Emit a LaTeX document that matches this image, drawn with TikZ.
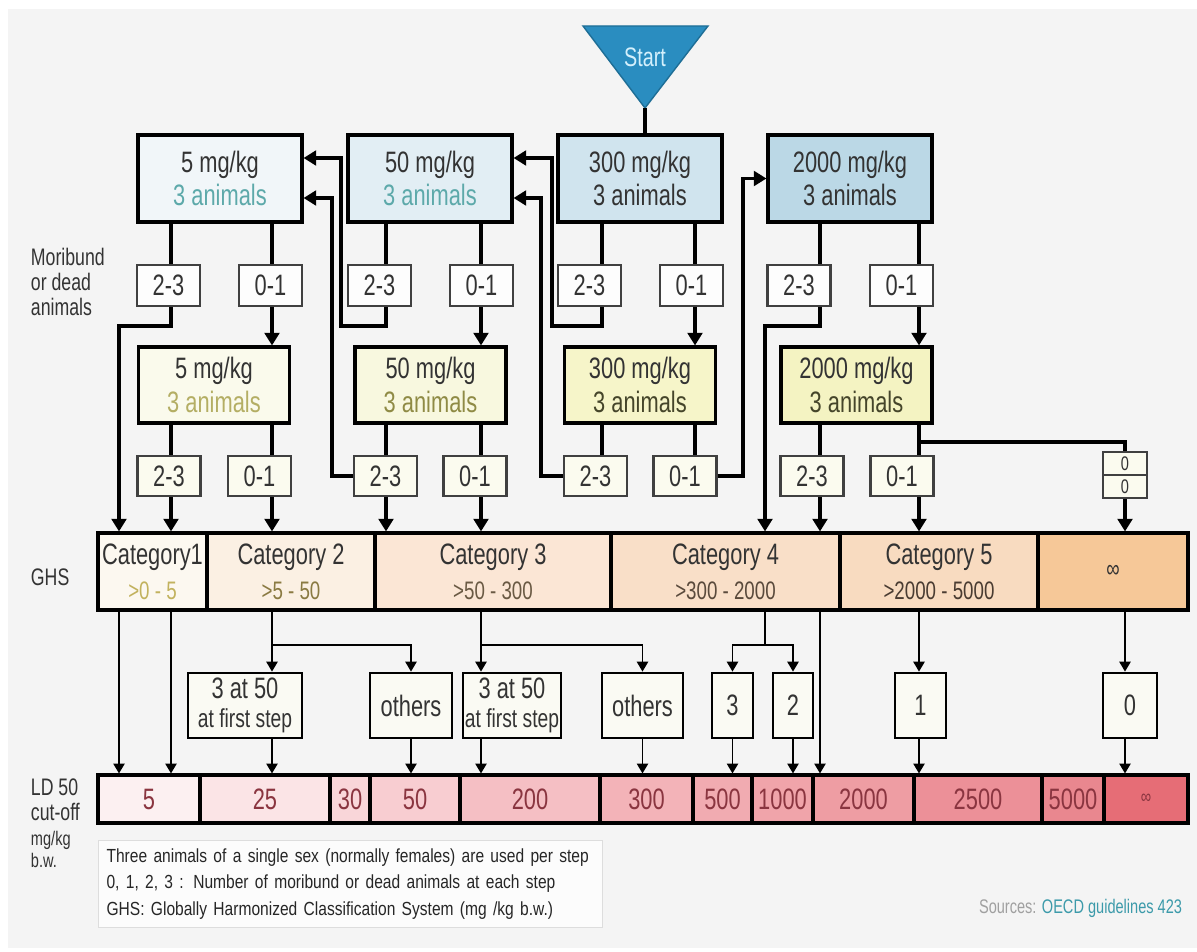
\documentclass[tikz,border=0pt]{standalone}
\usepackage{fontspec}
\setmainfont[FakeStretch=0.74]{Liberation Sans}
\newfontfamily\notesfam[FakeStretch=0.82]{Liberation Sans}
\usetikzlibrary{arrows.meta}
\definecolor{startblue}{HTML}{2A8DC0}
\definecolor{startline}{HTML}{1E6E96}
\definecolor{starttxt}{HTML}{D4F0FC}
\definecolor{panel}{HTML}{F4F4F4}
\definecolor{inktxt}{HTML}{333333}
\definecolor{blueA}{HTML}{F1F6F9}
\definecolor{blueB}{HTML}{E2EEF4}
\definecolor{blueC}{HTML}{D0E4EE}
\definecolor{blueD}{HTML}{BBD8E6}
\definecolor{tealtxt}{HTML}{5DA9AA}
\definecolor{yelA}{HTML}{FAFAEC}
\definecolor{yelB}{HTML}{F8F8DF}
\definecolor{yelC}{HTML}{F6F5C9}
\definecolor{yelD}{HTML}{F4F3C2}
\definecolor{olivA}{HTML}{B4AE64}
\definecolor{olivB}{HTML}{8F8B45}
\definecolor{olivC}{HTML}{45452A}
\definecolor{cntA}{HTML}{FDFDFD}
\definecolor{cntB}{HTML}{FBFBEF}
\definecolor{ghsA}{HTML}{FCF8F0}
\definecolor{ghsB}{HTML}{FBF0E3}
\definecolor{ghsC}{HTML}{FBE6D5}
\definecolor{ghsD}{HTML}{F9DFC8}
\definecolor{ghsE}{HTML}{F8DBC0}
\definecolor{ghsF}{HTML}{F6C898}
\definecolor{subA}{HTML}{C2B25E}
\definecolor{subB}{HTML}{8A7A42}
\definecolor{subC}{HTML}{6A5A44}
\definecolor{subD}{HTML}{5A4A3C}
\definecolor{subE}{HTML}{4A3C32}
\definecolor{ldA}{HTML}{FCF0F1}
\definecolor{ldB}{HTML}{FBE4E6}
\definecolor{ldC}{HTML}{F9D6D9}
\definecolor{ldD}{HTML}{F8CDD1}
\definecolor{ldE}{HTML}{F5BFC4}
\definecolor{ldF}{HTML}{F3B3B8}
\definecolor{ldG}{HTML}{F1ABB1}
\definecolor{ldH}{HTML}{F0A4AA}
\definecolor{ldI}{HTML}{EE9DA3}
\definecolor{ldJ}{HTML}{EC9098}
\definecolor{ldK}{HTML}{E9878F}
\definecolor{ldL}{HTML}{E66D76}
\definecolor{ldtxt}{HTML}{8A3540}
\definecolor{outfill}{HTML}{FAFAF3}
\definecolor{notefill}{HTML}{FCFCFC}
\definecolor{noteline}{HTML}{DDDDDD}
\definecolor{srcgray}{HTML}{A0A0A0}
\definecolor{srcteal}{HTML}{3C9AAA}
\newcommand\fntbox{\fontsize{21}{24}\selectfont}
\newcommand\fntsub{\fontsize{18}{20}\selectfont}
\newcommand\fntside{\fontsize{17}{17.5}\selectfont}
\newcommand\fntunit{\fontsize{14}{15.5}\selectfont}
\newcommand\fntstart{\fontsize{19}{20}\selectfont}
\newcommand\fntnote{\notesfam\fontsize{13.5}{18.5}\selectfont}
\newcommand\fntsrc{\fontsize{14}{16}\selectfont}
\newcommand\fntzero{\fontsize{14}{14}\selectfont}
\begin{document}
\begin{tikzpicture}[x=0.025cm,y=-0.025cm,>={Triangle[length=9pt,width=10.5pt]},
    link/.style={line width=2.2pt},
    lowlink/.style={line width=1.1pt,>={Triangle[length=7pt,width=8pt]}},
    dosea/.style={draw=black,line width=2.2pt,inner sep=0pt,minimum width=4.1cm,minimum height=2.175cm,align=center,font=\fntbox,text=inktxt},
    doseb/.style={dosea,minimum width=3.775cm,minimum height=1.9cm},
    cnt/.style={draw=black!75,line width=1.5pt,fill=cntA,inner sep=0pt,minimum width=1.575cm,minimum height=1.025cm,font=\fntbox,text=inktxt},
    cntb/.style={cnt,fill=cntB,minimum height=1cm},
    ghs/.style={draw=black,line width=2.2pt,inner sep=0pt,minimum height=1.925cm,align=center,font=\fntbox,text=inktxt},
    ldc/.style={draw=black,line width=2.2pt,inner sep=0pt,minimum height=1.2cm,font=\fntbox,text=ldtxt},
    outc/.style={draw=black,line width=2pt,fill=outfill,inner sep=0pt,minimum height=1.625cm,align=center,font=\fntbox,text=inktxt}]
  % background
  \fill[white] (0,0) rectangle (1197,952);
  \fill[panel] (8,9) rectangle (1197,948);
  \useasboundingbox (0,0) rectangle (1197,952);
  % lanes and heights
  \foreach \nm/\xx in {la5/171,lb5/272,la50/386,lb50/481,la300/602,lb300/695,la2000/820,lb2000/919,ra5/119,ra50/341,rb50/332,ra300/552,rb300/541,up300/743,ra2000/765,linf/1125}
    \coordinate (\nm) at (\xx,0);
  \coordinate (hi) at (0,158);
  \coordinate (lo) at (0,198);
  \coordinate (bend) at (0,326);
  \coordinate (branch) at (0,442);
  \coordinate (fork) at (0,645);
  % start
  \coordinate (apex) at (645,108);
  \filldraw[fill=startblue,draw=startline,line width=1pt] (583,26) -- (708,26) -- (apex) -- cycle;
  \node[font=\fntstart,text=starttxt] (start) at (645,57) {Start};
  % first step
  \node[dosea,fill=blueA] (d5) at (220,178.5) {5 mg/kg\\\color{tealtxt}3 animals};
  \node[dosea,fill=blueB] (d50) at (430,178.5) {50 mg/kg\\\color{tealtxt}3 animals};
  \node[dosea,fill=blueC] (d300) at (640,178.5) {300 mg/kg\\3 animals};
  \node[dosea,fill=blueD] (d2000) at (850,178.5) {2000 mg/kg\\3 animals};
  \foreach \nm/\xx/\lbl in {a5/168.5/2-3,b5/270.5/0-1,a50/379.5/2-3,b50/481.5/0-1,a300/589.5/2-3,b300/691.5/0-1,a2000/799/2-3,b2000/901.5/0-1}
    \node[cnt] (\nm) at (\xx,285.5) {\lbl};
  % second step
  \node[doseb,fill=yelA] (e5) at (214,385) {5 mg/kg\\\color{olivA}3 animals};
  \node[doseb,fill=yelB] (e50) at (430.5,385) {50 mg/kg\\\color{olivB}3 animals};
  \node[doseb,fill=yelC] (e300) at (640,385) {300 mg/kg\\\color{olivC}3 animals};
  \node[doseb,fill=yelD] (e2000) at (856.5,385) {2000 mg/kg\\\color{olivC}3 animals};
  \foreach \nm/\xx/\lbl in {f5a/169/2-3,f5b/259.5/0-1,f50a/385.5/2-3,f50b/475/0-1,f300a/595.5/2-3,f300b/685/0-1,f2000a/812/2-3,f2000b/902/0-1}
    \node[cntb] (\nm) at (\xx,476) {\lbl};
  \node[cntb,minimum width=1.1cm,minimum height=0.575cm,font=\fntzero] (zt) at (1125,463.5) {0};
  \node[cntb,minimum width=1.1cm,minimum height=0.575cm,font=\fntzero] (zb) at (1125,486.5) {0};
  % GHS bar
  \foreach \nm/\a/\b/\c/\sc/\ta/\tb in {g1/98/207/ghsA/subA/Category1/{>0 - 5},g2/207/375/ghsB/subB/Category 2/{>5 - 50},g3/375/611/ghsC/subC/Category 3/{>50 - 300},g4/611/840/ghsD/subD/Category 4/{>300 - 2000},g5/840/1038/ghsE/subE/Category 5/{>2000 - 5000}}
    \node[ghs,fill=\c,minimum width={(\b-\a)*0.025cm}] (\nm) at ({(\a+\b)/2},571.5) {\ta\\[1pt]{\fntsub\color{\sc}\tb}};
  \node[ghs,fill=ghsF,minimum width=3.75cm,font=\fntsub] (g6) at (1113,571.5) {∞};
  % outcomes
  \node[outc,minimum width=2.85cm] (o1) at (245,705.5) {3 at 50\\[-3pt]{\fontsize{18.5}{20}\selectfont at first step}};
  \node[outc,minimum width=2.05cm] (o2) at (411,705.5) {others};
  \node[outc,minimum width=2.45cm] (o3) at (512,705.5) {3 at 50\\[-3pt]{\fontsize{18.5}{20}\selectfont at first step}};
  \node[outc,minimum width=2.025cm] (o4) at (642.5,705.5) {others};
  \node[outc,minimum width=1.025cm] (o5) at (732.5,705.5) {3};
  \node[outc,minimum width=1cm] (o6) at (793,705.5) {2};
  \node[outc,minimum width=1.275cm] (o7) at (920.5,705.5) {1};
  \node[outc,minimum width=1.35cm] (o8) at (1130,705.5) {0};
  % LD 50 bar
  \foreach \nm/\a/\b/\c/\lbl in {l1/98/200/ldA/5,l2/200/330/ldB/25,l3/330/370/ldC/30,l4/370/460/ldD/50,l5/460/600/ldE/200,l6/600/693/ldF/300,l7/693/752/ldG/500,l8/752/813/ldH/1000,l9/813/914/ldI/2000,l10/914/1042/ldJ/2500,l11/1042/1104/ldK/5000}
    \node[ldc,fill=\c,minimum width={(\b-\a)*0.025cm}] (\nm) at ({(\a+\b)/2},799) {\lbl};
  \node[ldc,fill=ldL,minimum width=2.1cm,font=\fntzero] (l12) at (1146,799) {∞};
  % first step links
  \draw[link] (apex) -- (apex |- d300.north);
  \foreach \bx/\sx/\ln in {d5/a5/la5,d5/b5/lb5,d50/a50/la50,d50/b50/lb50,d300/a300/la300,d300/b300/lb300,d2000/a2000/la2000,d2000/b2000/lb2000}
    \draw[link] (\bx.south -| \ln) -- (\sx.north -| \ln);
  \foreach \sx/\ex/\ln in {b5/e5/lb5,b50/e50/lb50,b300/e300/lb300,b2000/e2000/lb2000}
    \draw[link,->] (\sx.south -| \ln) -- (\ex.north -| \ln);
  \draw[link,->] (a5.south -| la5) |- (bend -| ra5) -- (ra5 |- g1.north);
  \draw[link,->] (a50.south -| la50) |- (bend -| ra50) |- (d5.east |- hi);
  \draw[link,->] (a300.south -| la300) |- (bend -| ra300) |- (d50.east |- hi);
  \draw[link,->] (a2000.south -| la2000) |- (bend -| ra2000) -- (ra2000 |- g4.north);
  % second step links
  \foreach \bx/\sx/\ln in {e5/f5a/la5,e5/f5b/lb5,e50/f50a/la50,e50/f50b/lb50,e300/f300a/la300,e300/f300b/lb300,e2000/f2000a/la2000,e2000/f2000b/lb2000}
    \draw[link] (\bx.south -| \ln) -- (\sx.north -| \ln);
  \draw[link] (branch -| lb2000) -| (zt.north);
  \foreach \sx/\gx/\ln in {f5a/g1/la5,f5b/g2/lb5,f50a/g3/la50,f50b/g3/lb50,f2000a/g4/la2000,f2000b/g5/lb2000,zb/g6/linf}
    \draw[link,->] (\sx.south -| \ln) -- (\gx.north -| \ln);
  \draw[link,->] (f50a.west) -| (rb50 |- lo) -- (d5.east |- lo);
  \draw[link,->] (f300a.west) -| (rb300 |- lo) -- (d50.east |- lo);
  \draw[link,->] (f300b.east) -| (up300 |- d2000.west) -- (d2000.west);
  % GHS to LD 50
  \draw[lowlink,->] (g1.south -| ra5) -- (l1.north -| ra5);
  \draw[lowlink,->] (g1.south -| la5) -- (l1.north -| la5);
  \draw[lowlink,->] (g2.south -| lb5) -- (o1.north -| lb5);
  \draw[lowlink,->] (fork -| lb5) -| (o2.north);
  \draw[lowlink,->] (g3.south -| lb50) -- (o3.north -| lb50);
  \draw[lowlink,->] (fork -| lb50) -| (o4.north);
  \draw[lowlink] (g4.south -| ra2000) -- (fork -| ra2000);
  \draw[lowlink,->] (fork -| ra2000) -| (o5.north);
  \draw[lowlink,->] (fork -| ra2000) -| (o6.north);
  \draw[lowlink,->] (g4.south -| la2000) -- (l9.north -| la2000);
  \draw[lowlink,->] (g5.south -| lb2000) -- (o7.north -| lb2000);
  \draw[lowlink,->] (g6.south -| linf) -- (o8.north -| linf);
  \foreach \ox/\lx in {o2/l4,o4/l6,o5/l7,o6/l8}
    \draw[lowlink,->] (\ox.south) -- (\lx.north -| \ox.south);
  \foreach \ox/\lx/\ln in {o1/l2/lb5,o3/l5/lb50,o7/l10/lb2000,o8/l12/linf}
    \draw[lowlink,->] (\ox.south -| \ln) -- (\lx.north -| \ln);
  % side labels
  \node[anchor=west,align=left,font=\fntside,text=inktxt] (moribund) at (26,282) {Moribund\\or dead\\animals};
  \node[anchor=west,font=\fntside,text=inktxt] (ghslabel) at (26,577) {GHS};
  \node[anchor=west,align=left,font=\fntside,text=inktxt] (ldlabel) at (26,800) {LD 50\\cut-off};
  \node[anchor=north west,align=left,font=\fntunit,text=inktxt] (unitlabel) at (26,826) {mg/kg\\b.w.};
  % notes and source
  \node[anchor=north west,draw=noteline,fill=notefill,line width=0.8pt,minimum width=12.6cm,minimum height=2.175cm,inner sep=0pt,text width=12.2cm,align=left,font=\fntnote,text=black!85] (notes) at (98,840)
    {Three animals of a single sex (normally females) are used per step\\0, 1, 2, 3 : Number of moribund or dead animals at each step\\GHS: Globally Harmonized Classification System (mg /kg b.w.)};
  \node[anchor=east,font=\fntsrc] (source) at (1187,908) {\color{srcgray}Sources: \color{srcteal}OECD guidelines 423};
\end{tikzpicture}
\end{document}
